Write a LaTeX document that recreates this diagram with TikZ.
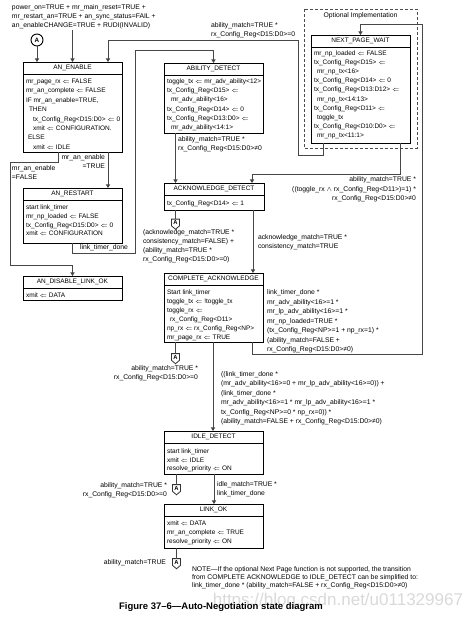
\documentclass[tikz,border=0pt]{standalone}
\usepackage{fontspec}
\setmainfont{Liberation Sans}
\usetikzlibrary{arrows.meta,shapes.symbols,calc}
\newcommand\la{$\Leftarrow$}
\newcommand\tl[1]{\begin{tabular}[t]{@{}l@{}}#1\end{tabular}}
\newcommand\tr[1]{\begin{tabular}[t]{@{}r@{}}#1\end{tabular}}
\newcommand\stbox[6]{%
  \node[box, minimum width=#4pt, minimum height=#5pt] (#1) at (#2,#3) {};
  \draw[boxline] ([yshift=-12pt]#1.north west) -- ([yshift=-12pt]#1.north east);
  \node[fs=9] (#1T) at ([yshift=-6.3pt]#1.north) {#6};
}
\begin{document}
\begin{tikzpicture}[x=1pt,y=-1pt,
  every node/.style={inner sep=0pt, outer sep=0pt},
  fs/.style={font=\fontsize{6.5}{#1}\selectfont},
  fl/.style={font=\fontsize{6.8}{#1}\selectfont},
  box/.style={draw=black, line width=0.9pt, anchor=north west},
  boxline/.style={draw=black, line width=0.9pt},
  bod/.style={fs=#1, anchor=base west},
  lab/.style={fl=#1, anchor=base west},
  labr/.style={fl=#1, anchor=base east},
  conn/.style={draw=black!72, line width=1pt},
  arr/.style={conn, -{Triangle[length=3.6pt,width=4.2pt]}},
  pent/.style={draw=black!80, line width=0.8pt, signal, signal to=south, signal pointer angle=100,
    minimum width=8pt, minimum height=9pt, inner sep=0.6pt, font=\fontsize{5.8}{6}\selectfont\bfseries},
]
\useasboundingbox (0,0) rectangle (473,619);

% ---------- watermark (behind) ----------
\node[font=\fontsize{17}{18}\selectfont, text=black!15, anchor=base east] (wm) at (463,605) {https://blog.csdn.net/u011329967};

% ---------- boxes ----------
\draw[dashed, draw=black!70, line width=0.8pt, dash pattern=on 3pt off 2pt] (304,9) rectangle (417,148);
\node[fl=9] (opt) at (360.5,15.5) {Optional Implementation};

\stbox{ae}{23}{62}{99}{90}{AN\_ENABLE}
\stbox{anr}{23}{188}{99}{55}{AN\_RESTART}
\stbox{adl}{23}{276}{99}{24}{AN\_DISABLE\_LINK\_OK}
\stbox{abd}{164}{63}{99}{70}{ABILITY\_DETECT}
\stbox{ackd}{164}{183}{100}{27}{ACKNOWLEDGE\_DETECT}
\stbox{cack}{164}{273}{99}{69}{COMPLETE\_ACKNOWLEDGE}
\stbox{npw}{311}{35}{99}{108}{NEXT\_PAGE\_WAIT}
\stbox{idle}{164}{431}{99}{43}{IDLE\_DETECT}
\stbox{lok}{164}{504}{99}{44}{LINK\_OK}

% ---------- box contents ----------
\node[bod=9.4] (aeB) at (26,83.5) {\tl{mr\_page\_rx \la{} FALSE\\mr\_an\_complete \la{} FALSE\\IF mr\_an\_enable=TRUE,\\\hspace*{3pt}THEN\\\hspace*{7pt}tx\_Config\_Reg<D15:D0> \la{} 0\\\hspace*{7pt}xmit \la{} CONFIGURATION.\\\hspace*{2pt}ELSE\\\hspace*{7pt}xmit \la{} IDLE}};
\node[bod=8.8] (anrB) at (26,209.5) {\tl{start link\_timer\\mr\_np\_loaded \la{} FALSE\\tx\_Config\_Reg<D15:D0> \la{} 0\\xmit \la{} CONFIGURATION}};
\node[bod=9] (adlB) at (26,297.5) {xmit \la{} DATA};
\node[bod=9.2] (abdB) at (167,83.5) {\tl{toggle\_tx \la{} mr\_adv\_ability<12>\\tx\_Config\_Reg<D15> \la\\\hspace*{4pt}mr\_adv\_ability<16>\\tx\_Config\_Reg<D14> \la{} 0\\tx\_Config\_Reg<D13:D0> \la\\\hspace*{4pt}mr\_adv\_ability<14:1>}};
\node[bod=9] (ackdB) at (167,205.5) {tx\_Config\_Reg<D14> \la{} 1};
\node[bod=9] (cackB) at (167,294.5) {\tl{Start link\_timer\\toggle\_tx \la{} !toggle\_tx\\toggle\_rx \la\\\hspace*{3pt}rx\_Config\_Reg<D11>\\np\_rx \la{} rx\_Config\_Reg<NP>\\mr\_page\_rx \la{} TRUE}};
\node[bod=9.1] (npwB) at (314,55.5) {\tl{mr\_np\_loaded \la{} FALSE\\tx\_Config\_Reg<D15> \la\\\hspace*{3pt}mr\_np\_tx<16>\\tx\_Config\_Reg<D14> \la{} 0\\tx\_Config\_Reg<D13:D12> \la\\\hspace*{3pt}mr\_np\_tx<14:13>\\tx\_Config\_Reg<D11> \la\\\hspace*{3pt}toggle\_tx\\tx\_Config\_Reg<D10:D0> \la\\\hspace*{3pt}mr\_np\_tx<11:1>}};
\node[bod=8.6] (idleB) at (167,453.5) {\tl{start link\_timer\\xmit \la{} IDLE\\resolve\_priority \la{} ON}};
\node[bod=9] (lokB) at (167,525.5) {\tl{xmit \la{} DATA\\mr\_an\_complete \la{} TRUE\\resolve\_priority \la{} ON}};

% ---------- global entry ----------
\node[lab=9] (glob) at (12,9.5) {\tl{power\_on=TRUE + mr\_main\_reset=TRUE +\\mr\_restart\_an=TRUE + an\_sync\_status=FAIL +\\an\_enableCHANGE=TRUE + RUDI(INVALID)}};
\node[circle, draw=black, line width=0.9pt, minimum size=12pt, font=\fontsize{6.3}{7}\selectfont\bfseries] (cA) at (37,40) {A};

% ---------- x positions ----------
\coordinate (x58) at (58,0);
\coordinate (x108) at (108,0);
\coordinate (x175) at (175.5,0);
\coordinate (x213) at (213,0);
\coordinate (x214) at (214,0);
\coordinate (x253) at (253,0);
\coordinate (x323) at (323,0);
\coordinate (x400) at (400,0);

% ---------- connectors ----------
\draw[arr] (glob.south -| ae.north) -- (ae.north);
\draw[arr] (cA.south) -- (cA.south |- ae.north);

% NEXT_PAGE_WAIT -> AN_ENABLE
\coordinate (k1) at (298,155);
\coordinate (k2) at (108,40);
\draw[arr] (x323 |- npw.south) |- (k1) |- (k2) -- (k2 |- ae.north);
\node[lab=8.5] (l1) at (211,27.5) {\tl{ability\_match=TRUE *\\rx\_Config\_Reg<D15:D0>=0}};

% AN_RESTART -> ABILITY_DETECT
\coordinate (k3) at (135,253);
\coordinate (k4) at (0,50);
\draw[arr] (anr.south) |- (k3) |- (k4 -| abd.north) -- (abd.north);
\node[lab=9] (l2) at (80,249.5) {link\_timer\_done};

% AN_ENABLE -> AN_RESTART
\draw[arr] (x108 |- ae.south) -- (x108 |- anr.north);
\node[labr=8.5] (l3) at (105,159.5) {\tr{mr\_an\_enable\\=TRUE}};

% AN_ENABLE -> AN_DISABLE_LINK_OK
\coordinate (k5) at (10,162);
\coordinate (k6) at (0,265);
\draw[arr] (x58 |- ae.south) |- (k5) |- (k6 -| adl.north) -- (adl.north);
\node[lab=8.5] (l4) at (12,170.5) {\tl{mr\_an\_enable\\=FALSE}};

% ABILITY_DETECT -> ACKNOWLEDGE_DETECT
\draw[arr] (x175 |- abd.south) -- (x175 |- ackd.north);
\node[lab=8.5] (l5) at (178,141.5) {\tl{ability\_match=TRUE *\\rx\_Config\_Reg<D15:D0>≠0}};

% NEXT_PAGE_WAIT -> ACKNOWLEDGE_DETECT
\coordinate (k7) at (252,174);
\draw[arr] (x400 |- npw.south) |- (k7) -- (k7 |- ackd.north);
\node[labr=9.5] (l6) at (416,181.5) {\tr{ability\_match=TRUE *\\((toggle\_rx $\wedge$ rx\_Config\_Reg<D11>)=1) *\\rx\_Config\_Reg<D15:D0>≠0}};

% ACKNOWLEDGE_DETECT -> A
\node[pent] (pa1) at (175.5,222.5) {A};
\draw[conn] (pa1.north |- ackd.south) -- (pa1.north);
\node[lab=9] (l7) at (143,234.5) {\tl{(acknowledge\_match=TRUE *\\consistency\_match=FALSE) +\\(ability\_match=TRUE *\\rx\_Config\_Reg<D15:D0>=0)}};

% ACKNOWLEDGE_DETECT -> COMPLETE_ACKNOWLEDGE
\draw[arr] (x253 |- ackd.south) -- (x253 |- cack.north);
\node[lab=8.5] (l8) at (258,239.5) {\tl{acknowledge\_match=TRUE *\\consistency\_match=TRUE}};

% COMPLETE_ACKNOWLEDGE -> A
\node[pent] (pa2) at (175.5,357) {A};
\draw[conn] (pa2.north |- cack.south) -- (pa2.north);
\node[labr=8.5] (l9) at (198,370.5) {\tr{ability\_match=TRUE *\\rx\_Config\_Reg<D15:D0>=0}};

% COMPLETE_ACKNOWLEDGE -> IDLE_DETECT
\draw[arr] (x213 |- cack.south) -- (x213 |- idle.north);
\node[lab=9.4] (l10) at (221,376.5) {\tl{((link\_timer\_done *\\(mr\_adv\_ability<16>=0 + mr\_lp\_adv\_ability<16>=0)) +\\(link\_timer\_done *\\mr\_adv\_ability<16>=1 * mr\_lp\_adv\_ability<16>=1 *\\tx\_Config\_Reg<NP>=0 * np\_rx=0)) *\\(ability\_match=FALSE + rx\_Config\_Reg<D15:D0>≠0)}};

% COMPLETE_ACKNOWLEDGE -> NEXT_PAGE_WAIT
\coordinate (k8) at (252,354);
\coordinate (k9) at (422,24);
\draw[arr] (k8 |- cack.south) -- (k8) -| (k9) -| (npw.north);
\node[lab=9.5] (l11) at (267,294.5) {\tl{link\_timer\_done *\\mr\_adv\_ability<16>=1 *\\mr\_lp\_adv\_ability<16>=1 *\\mr\_np\_loaded=TRUE *\\(tx\_Config\_Reg<NP>=1 + np\_rx=1) *\\(ability\_match=FALSE +\\rx\_Config\_Reg<D15:D0>≠0)}};

% IDLE_DETECT -> A
\node[pent] (pa3) at (176.5,488) {A};
\draw[conn] (pa3.north |- idle.south) -- (pa3.north);
\node[labr=8.8] (l12) at (167,487.5) {\tr{ability\_match=TRUE *\\rx\_Config\_Reg<D15:D0>=0}};

% IDLE_DETECT -> LINK_OK
\draw[arr] (x214 |- idle.south) -- (x214 |- lok.north);
\node[lab=8.8] (l13) at (217,486.5) {\tl{idle\_match=TRUE *\\link\_timer\_done}};

% LINK_OK -> A
\node[pent] (pa4) at (176.5,562) {A};
\draw[conn] (pa4.north |- lok.south) -- (pa4.north);
\node[labr=9] (l14) at (166,564.5) {ability\_match=TRUE};

% ---------- note, caption ----------
\node[lab=8] (note) at (192,571.5) {\tl{NOTE---If the optional Next Page function is not supported, the transition\\from COMPLETE ACKNOWLEDGE to IDLE\_DETECT can be simplified to:\\link\_timer\_done * (ability\_match=FALSE + rx\_Config\_Reg<D15:D0>≠0)}};
\node[font=\fontsize{9.5}{11}\selectfont\bfseries] (cap) at (221,607.5) {Figure 37--6---Auto-Negotiation state diagram};
\end{tikzpicture}
\end{document}
